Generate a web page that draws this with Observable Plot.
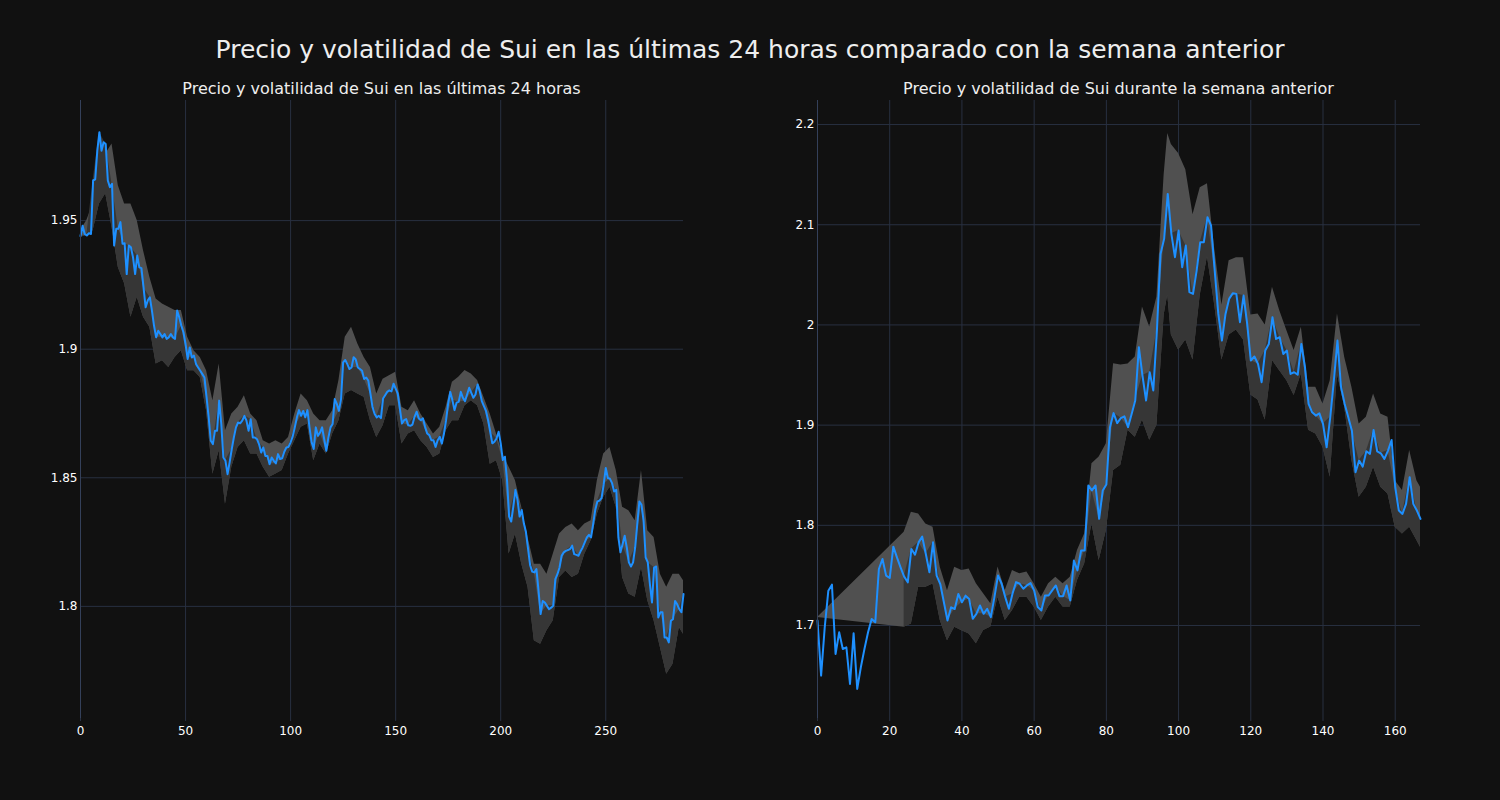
<!DOCTYPE html>
<html><head><meta charset="utf-8">
<script src="https://cdn.jsdelivr.net/npm/d3@7"></script>
<script src="https://cdn.jsdelivr.net/npm/@observablehq/plot@0.6"></script>
<style>
body{margin:0;background:#111111;}
#root{position:relative;width:1500px;height:800px;background:#111111;font-family:"DejaVu Sans",sans-serif;color:#eeeeee;overflow:hidden}
.title{position:absolute;left:0;width:1500px;top:35px;text-align:center;font-size:25px;line-height:30px}
.sub{position:absolute;top:79px;text-align:center;font-size:16px;line-height:20px;width:603px}
.panel{position:absolute;top:0}
</style></head><body>
<div id="root">
  <div class="title">Precio y volatilidad de Sui en las últimas 24 horas comparado con la semana anterior</div>
  <div class="sub" style="left:80px">Precio y volatilidad de Sui en las últimas 24 horas</div>
  <div class="sub" style="left:817px">Precio y volatilidad de Sui durante la semana anterior</div>
  <div class="panel" id="left" style="left:0"></div>
  <div class="panel" id="right" style="left:750px"></div>
</div>
<script>
// ---- Last 24 hours (5-minute steps, index 0..287) ----
const price24h = [
1.9440,1.9480,1.9448,1.9442,1.9451,1.9448,1.9656,1.9660,1.9772,1.9844,
1.9772,1.9805,1.9798,1.9656,1.9630,1.9643,1.9403,1.9468,1.9468,1.9494,
1.9410,1.9412,1.9292,1.9403,1.9396,1.9357,1.9292,1.9364,1.9318,1.9315,
1.9240,1.9163,1.9189,1.9202,1.9150,1.9091,1.9046,1.9072,1.9059,1.9046,
1.9059,1.9040,1.9046,1.9059,1.9046,1.9040,1.9150,1.9124,1.9091,1.9066,
1.9020,1.8962,1.9007,1.8968,1.8975,1.8942,1.8929,1.8916,1.8903,1.8890,
1.8813,1.8735,1.8644,1.8631,1.8683,1.8683,1.8800,1.8709,1.8579,1.8566,
1.8514,1.8561,1.8612,1.8657,1.8696,1.8715,1.8712,1.8722,1.8741,1.8722,
1.8683,1.8728,1.8657,1.8657,1.8650,1.8630,1.8598,1.8618,1.8585,1.8585,
1.8553,1.8579,1.8566,1.8556,1.8592,1.8573,1.8576,1.8601,1.8618,1.8620,
1.8638,1.8661,1.8696,1.8735,1.8763,1.8741,1.8760,1.8735,1.8763,1.8696,
1.8638,1.8612,1.8696,1.8663,1.8676,1.8696,1.8650,1.8605,1.8657,1.8696,
1.8709,1.8806,1.8787,1.8760,1.8806,1.8949,1.8958,1.8942,1.8923,1.8929,
1.8969,1.8960,1.8929,1.8923,1.8916,1.8884,1.8890,1.8877,1.8826,1.8774,
1.8748,1.8735,1.8741,1.8732,1.8808,1.8821,1.8834,1.8840,1.8836,1.8866,
1.8847,1.8827,1.8769,1.8711,1.8724,1.8728,1.8704,1.8702,1.8707,1.8737,
1.8757,1.8731,1.8724,1.8731,1.8698,1.8672,1.8666,1.8646,1.8646,1.8620,
1.8646,1.8659,1.8633,1.8672,1.8724,1.8789,1.8834,1.8802,1.8763,1.8792,
1.8795,1.8834,1.8811,1.8798,1.8824,1.8850,1.8830,1.8811,1.8824,1.8863,
1.8837,1.8798,1.8779,1.8760,1.8724,1.8679,1.8634,1.8640,1.8653,1.8679,
1.8634,1.8569,1.8582,1.8491,1.8349,1.8330,1.8388,1.8453,1.8414,1.8349,
1.8375,1.8323,1.8290,1.8225,1.8160,1.8135,1.8132,1.8145,1.8061,1.7970,
1.8021,1.8015,1.8002,1.7989,1.7995,1.8002,1.8106,1.8125,1.8151,1.8197,
1.8210,1.8216,1.8219,1.8223,1.8236,1.8203,1.8200,1.8197,1.8214,1.8229,
1.8249,1.8268,1.8278,1.8268,1.8320,1.8375,1.8408,1.8411,1.8421,1.8473,
1.8538,1.8499,1.8496,1.8479,1.8447,1.8453,1.8268,1.8210,1.8242,1.8275,
1.8229,1.8171,1.8155,1.8171,1.8229,1.8320,1.8408,1.8395,1.8333,1.8190,
1.8171,1.8087,1.8015,1.8151,1.8155,1.7957,1.7977,1.7977,1.7879,1.7879,
1.7860,1.7944,1.7950,1.8021,1.8008,1.7989,1.7977,1.8048
];
const band24hX = [0,3,6,9,12,15,18,21,24,27,30,33,36,39,42,45,48,51,54,57,60,63,66,69,72,75,78,81,84,87,90,93,96,99,102,105,108,111,114,117,120,123,126,129,132,135,138,141,144,147,150,153,156,159,162,165,168,171,174,177,180,183,186,189,192,195,198,201,204,207,210,213,216,219,222,225,228,231,234,237,240,243,246,249,252,255,258,261,264,267,270,273,276,279,282,285,287];
const band24hHi = [1.9461,1.9500,1.9565,1.9669,1.9759,1.9798,1.9636,1.9565,1.9565,1.9500,1.9383,1.9280,1.9195,1.9176,1.9163,1.9150,1.9150,1.9046,1.8994,1.8968,1.8916,1.8800,1.8942,1.8683,1.8748,1.8774,1.8819,1.8748,1.8722,1.8644,1.8631,1.8644,1.8631,1.8657,1.8748,1.8826,1.8800,1.8748,1.8722,1.8722,1.8761,1.8878,1.9046,1.9085,1.9020,1.8968,1.8929,1.8826,1.8883,1.8897,1.8910,1.8774,1.8761,1.8800,1.8748,1.8709,1.8670,1.8696,1.8774,1.8871,1.8891,1.8917,1.8904,1.8878,1.8813,1.8748,1.8670,1.8592,1.8541,1.8489,1.8385,1.8268,1.8164,1.8164,1.8125,1.8203,1.8281,1.8307,1.8320,1.8294,1.8320,1.8333,1.8489,1.8592,1.8618,1.8528,1.8385,1.8372,1.8333,1.8528,1.8294,1.8268,1.8125,1.8074,1.8125,1.8125,1.8100];
const band24hLo = [1.9435,1.9442,1.9461,1.9565,1.9604,1.9474,1.9318,1.9254,1.9124,1.9202,1.9124,1.9085,1.8942,1.8955,1.8929,1.8968,1.8994,1.8916,1.8916,1.8890,1.8761,1.8514,1.8605,1.8397,1.8541,1.8618,1.8644,1.8592,1.8592,1.8541,1.8502,1.8515,1.8528,1.8592,1.8644,1.8696,1.8709,1.8566,1.8631,1.8592,1.8670,1.8722,1.8826,1.8839,1.8826,1.8813,1.8722,1.8657,1.8702,1.8780,1.8780,1.8631,1.8670,1.8683,1.8644,1.8618,1.8579,1.8592,1.8683,1.8722,1.8722,1.8780,1.8800,1.8780,1.8709,1.8553,1.8566,1.8489,1.8204,1.8281,1.8165,1.8074,1.7866,1.7853,1.7905,1.7944,1.8112,1.8138,1.8112,1.8125,1.8203,1.8255,1.8359,1.8424,1.8463,1.8385,1.8112,1.8048,1.8035,1.8151,1.8022,1.7944,1.7840,1.7736,1.7775,1.7918,1.7892];
const xTicks24h = [0, 50, 100, 150, 200, 250];
const yTicks24h = [1.8, 1.85, 1.9, 1.95];

// ---- Previous week (hourly, index 0..167) ----
const priceWeek = [
1.7049,1.6500,1.6982,1.7348,1.7408,1.6716,1.6932,1.6766,1.6782,1.6417,
1.6922,1.6367,1.6583,1.6766,1.6932,1.7065,1.7032,1.7564,1.7664,1.7498,
1.7474,1.7787,1.7680,1.7581,1.7488,1.7431,1.7764,1.7707,1.7830,1.7887,
1.7714,1.7531,1.7830,1.7498,1.7414,1.7232,1.7049,1.7182,1.7165,1.7315,
1.7232,1.7298,1.7265,1.7067,1.7117,1.7200,1.7117,1.7167,1.7084,1.7283,
1.7500,1.7417,1.7283,1.7167,1.7317,1.7433,1.7417,1.7367,1.7400,1.7423,
1.7350,1.7184,1.7150,1.7300,1.7300,1.7350,1.7400,1.7293,1.7293,1.7400,
1.7250,1.7649,1.7550,1.7749,1.7749,1.8398,1.8348,1.8398,1.8065,1.8348,
1.8408,1.8980,1.9120,1.9020,1.9070,1.9087,1.8980,1.9112,1.9246,1.9778,
1.9495,1.9246,1.9528,1.9345,1.9944,2.0709,2.0859,2.1308,2.0909,2.0676,
2.0942,2.0576,2.0792,2.0327,2.0310,2.0543,2.0826,2.0826,2.1075,2.0992,
2.0543,2.0110,1.9844,2.0110,2.0260,2.0317,2.0310,2.0027,2.0293,2.0011,
1.9645,1.9685,1.9611,1.9428,1.9744,1.9810,2.0077,1.9860,1.9877,1.9710,
1.9744,1.9511,1.9528,1.9504,1.9810,1.9578,1.9212,1.9128,1.9095,1.9118,
1.9012,1.8779,1.9078,1.9444,1.9844,1.9378,1.9212,1.9078,1.8945,1.8530,
1.8646,1.8586,1.8739,1.8713,1.8952,1.8739,1.8719,1.8663,1.8746,1.8852,
1.8380,1.8147,1.8114,1.8214,1.8480,1.8214,1.8147,1.8064
];
const bandWeekX = [0,24,26,28,30,32,34,36,38,40,42,44,46,48,50,52,54,56,58,60,62,64,66,68,70,72,74,76,78,80,82,84,86,88,90,92,94,96,97,98,100,102,104,106,108,110,112,114,116,118,120,122,124,126,128,130,132,134,136,138,140,142,144,146,148,150,152,154,156,158,160,162,164,166,167];
const bandWeekHi = [1.7080,1.7930,1.8130,1.8113,1.8013,1.7980,1.7581,1.7348,1.7581,1.7548,1.7564,1.7417,1.7317,1.7217,1.7583,1.7350,1.7550,1.7516,1.7533,1.7417,1.7283,1.7417,1.7483,1.7417,1.7483,1.7749,1.7916,1.8614,1.8681,1.8814,1.9612,1.9600,1.9610,1.9680,2.0180,1.9980,2.0280,2.1500,2.1910,2.1800,2.1710,2.1550,2.1100,2.1370,2.1410,2.0760,2.0200,2.0640,2.0670,2.0670,2.0100,2.0110,2.0000,2.0376,2.0143,1.9943,1.9744,1.9977,1.9378,1.9378,1.9212,1.9444,2.0110,1.9677,1.9378,1.9012,1.9079,1.9311,1.9112,1.9079,1.8446,1.8347,1.8746,1.8446,1.8380];
const bandWeekLo = [1.7080,1.6982,1.7015,1.7381,1.7381,1.7414,1.7049,1.6849,1.6982,1.6949,1.6916,1.6818,1.6951,1.6984,1.7283,1.7050,1.7150,1.7283,1.7283,1.7184,1.7050,1.7184,1.7283,1.7184,1.7184,1.7450,1.7616,1.8015,1.7650,1.7949,1.8547,1.8600,1.8950,1.8880,1.9050,1.8850,1.9000,2.0100,2.0300,1.9900,1.9750,1.9850,1.9650,2.0300,2.0680,2.0200,1.9650,1.9900,1.9950,1.9850,1.9300,1.9250,1.9050,1.9644,1.9544,1.9444,1.9295,1.9511,1.8950,1.8912,1.8779,1.8480,1.9511,1.9178,1.8646,1.8280,1.8380,1.8580,1.8380,1.8313,1.7981,1.7914,1.7981,1.7848,1.7781];
const xTicksWeek = [0, 20, 40, 60, 80, 100, 120, 140, 160];
const yTicksWeek = [1.7, 1.8, 1.9, 2.0, 2.1, 2.2];

const gridColor = "#283041";
const lineColor = "#1e90ff";
const bandLight = "#505050";
const bandDark = "#363636";
const fmt = d3.format("~g");

// darkFrom: first index where the lower (darker) half of the band is shaded
function panel(price, bandX, bandLo, bandHi, xTicks, yTicks, xDomain, yDomain, mLeft, mRight, darkFrom) {
  const bandRows = bandX.map((x, j) => ({x, lo: bandLo[j], hi: bandHi[j], mid: price[x]}));
  const darkRows = bandRows.filter(r => r.x >= darkFrom);
  return Plot.plot({
    width: 750, height: 800,
    marginLeft: mLeft, marginRight: mRight, marginTop: 100, marginBottom: 82,
    style: {background: "transparent", color: "#ffffff", fontFamily: "DejaVu Sans, sans-serif", fontSize: "12px"},
    x: {domain: xDomain, axis: null},
    y: {domain: yDomain, axis: null},
    marks: [
      Plot.gridY(yTicks, {stroke: gridColor, strokeOpacity: 1, strokeWidth: 1}),
      Plot.gridX(xTicks, {stroke: gridColor, strokeOpacity: 1, strokeWidth: 1}),
      Plot.areaY(bandRows, {x: "x", y1: "lo", y2: "hi", fill: bandLight, fillOpacity: 1}),
      Plot.areaY(darkRows, {x: "x", y1: "lo", y2: "mid", fill: bandDark, fillOpacity: 1}),
      Plot.lineY(price, {x: (d, i) => i, y: d => d, stroke: lineColor, strokeWidth: 2}),
      Plot.ruleX([xDomain[0]], {stroke: "#34405a", strokeWidth: 1}),
      Plot.axisX(xTicks, {tickSize: 3, stroke: gridColor, tickPadding: 5, label: null, tickFormat: fmt, fontSize: 12}),
      Plot.axisY(yTicks, {tickSize: 0, tickPadding: 3, label: null, tickFormat: fmt, fontSize: 12})
    ]
  });
}

document.getElementById("left").appendChild(
  panel(price24h, band24hX, band24hLo, band24hHi, xTicks24h, yTicks24h, [0, 287], [1.7564, 1.9967], 80, 67, 0));
document.getElementById("right").appendChild(
  panel(priceWeek, bandWeekX, bandWeekLo, bandWeekHi, xTicksWeek, yTicksWeek, [0, 167], [1.6072, 2.224], 67, 80, 24));
</script>
</body></html>
